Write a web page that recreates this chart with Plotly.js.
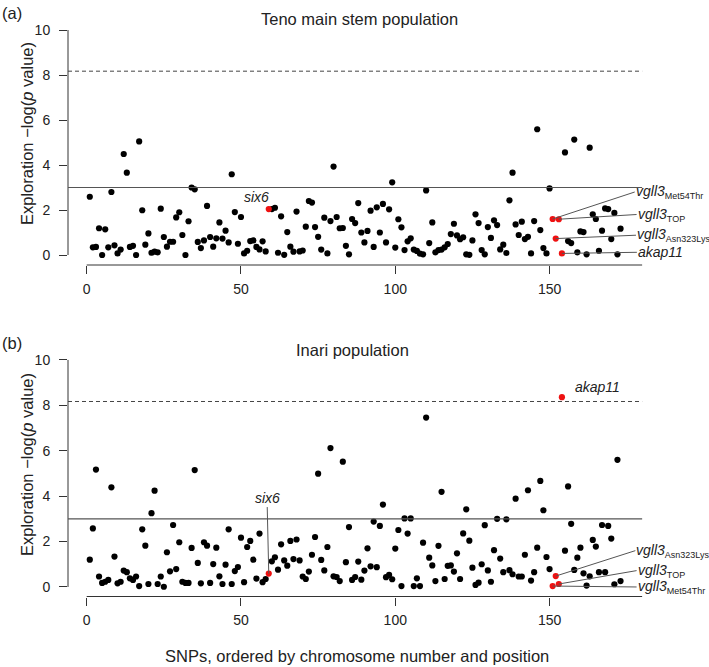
<!DOCTYPE html>
<html>
<head>
<meta charset="utf-8">
<script src="https://cdn.plot.ly/plotly-3.0.1.min.js"></script>
<style>
  html, body { margin: 0; padding: 0; background: #fff; }
  #chart { width: 709px; height: 667px; }
</style>
</head>
<body>
<div id="chart"></div>
<script>
// SNP exploration scores, -log(p), ordered by chromosome and position (SNP 1..173)
const tenoScores = [
  2.59, 0.34, 0.36, 1.19, 0.00, 1.14, 0.34, 2.80, 0.43, 0.07,
  0.24, 4.49, 3.66, 0.36, 0.41, 0.00, 5.05, 1.99, 0.46, 0.96,
  0.10, 0.15, 0.12, 2.06, 0.80, 0.37, 0.59, 0.59, 1.67, 1.90,
  0.89, 0.00, 1.50, 3.00, 2.92, 0.58, 0.31, 0.65, 2.18, 0.80,
  0.37, 0.74, 1.45, 0.73, 1.08, 0.56, 3.59, 1.91, 0.50, 1.69,
  0.07, 0.19, 0.62, 0.65, 0.36, 0.25, 0.61, 0.16, 2.04, 2.04,
  2.10, 0.10, 1.72, 0.01, 1.02, 0.37, 0.15, 1.93, 0.16, 0.20,
  1.26, 2.40, 2.33, 1.24, 0.81, 0.24, 1.66, 0.07, 1.51, 3.93,
  1.69, 1.19, 1.20, 0.41, 0.03, 1.60, 1.42, 2.31, 1.00, 0.56,
  1.07, 1.97, 0.36, 2.12, 1.00, 2.27, 0.56, 2.03, 3.23, 0.33,
  1.59, 1.23, 0.22, 0.61, 0.74, 0.24, 0.18, 0.06, 0.03, 2.87,
  0.53, 1.45, 0.12, 0.22, 0.24, 0.34, 0.49, 0.93, 1.39, 0.87,
  0.70, 0.79, 0.03, 0.01, 0.65, 1.81, 1.42, 0.22, 0.03, 1.24,
  0.76, 1.54, 1.33, 0.25, 0.46, 0.09, 2.43, 3.66, 1.36, 0.89,
  1.48, 0.71, 0.81, 0.07, 1.51, 5.59, 1.11, 0.31, 0.07, 2.96,
  1.60, 0.73, 1.59, 0.07, 4.56, 0.62, 0.53, 5.13, 0.12, 1.05,
  1.02, 0.03, 4.77, 1.81, 1.60, 0.19, 1.08, 2.07, 2.04, 0.71,
  1.87, 0.03, 1.17
];

const inariScores = [
  1.20, 2.58, 5.17, 0.46, 0.18, 0.23, 0.31, 4.39, 1.34, 0.16,
  0.23, 0.72, 0.65, 0.38, 0.31, 0.46, 0.04, 2.54, 1.82, 0.13,
  3.25, 4.24, 0.13, 0.46, 0.01, 1.53, 0.69, 2.73, 0.79, 1.97,
  0.23, 0.18, 0.18, 1.72, 5.15, 1.06, 0.16, 1.97, 1.82, 0.18,
  1.01, 1.73, 0.47, 0.13, 0.98, 2.54, 0.13, 0.70, 0.88, 2.17,
  0.21, 1.76, 2.03, 1.20, 0.37, 2.35, 0.21, 0.35, 0.59, 1.13,
  1.31, 0.76, 1.88, 1.17, 0.94, 2.03, 1.23, 2.09, 1.17, 0.46,
  0.35, 0.68, 1.42, 2.20, 4.99, 1.19, 0.73, 1.76, 6.12, 0.47,
  0.44, 0.26, 5.52, 1.09, 2.64, 0.31, 0.44, 1.12, 0.32, 0.72,
  1.70, 0.91, 2.88, 0.87, 2.69, 3.63, 0.43, 0.53, 0.34, 1.69,
  2.51, 0.04, 3.02, 2.35, 3.02, 0.04, 0.38, 0.04, 1.95, 7.46,
  1.29, 0.95, 0.26, 1.81, 4.19, 0.35, 0.93, 0.95, 0.68, 1.48,
  0.35, 2.36, 3.42, 2.04, 0.85, 0.09, 0.19, 1.00, 2.72, 0.73,
  0.23, 1.62, 3.00, 1.25, 0.65, 2.98, 0.74, 0.56, 3.89, 0.46,
  0.46, 1.42, 4.26, 0.28, 0.65, 1.73, 4.67, 3.38, 1.32, 0.79,
  0.04, 0.48, 0.13, 8.36, 1.60, 4.43, 2.78, 0.75, 1.29, 1.73,
  0.60, 0.06, 0.47, 2.07, 1.78, 0.65, 2.73, 0.65, 2.69, 2.13,
  0.12, 5.60, 0.26
];

// Candidate genes highlighted in red (SNP index)
const geneNames = ['six6', 'vgll3', 'vgll3', 'vgll3', 'akap11'];
const geneVariants = ['', 'Met54Thr', 'Asn323Lys', 'TOP', ''];
const geneSnps = [59, 151, 152, 153, 154];

// Significance thresholds
const suggestiveLine = 3;
const significantLine = 8.17;

const xTicks = [0, 50, 100, 150];
const yTicks = [0, 2, 4, 6, 8, 10];
const axisEnd = 180;

const panelTitles = ['Teno main stem population', 'Inari population'];
const panelTags = ['(a)', '(b)'];
const yTitle = 'Exploration \u2212log(<i>p</i> value)';
const xTitle = 'SNPs, ordered by chromosome number and position';

// ---- drawing ----
const FONT = 'Liberation Sans, Arial, Helvetica, sans-serif';
const INK = '#222';
const AXIS = '#333';

const snpIndex = tenoScores.map((_, i) => i + 1);

function panelTraces(scores, xa, ya) {
  const hl = new Set(geneSnps);
  const bx = [], by = [], rx = [], ry = [];
  snpIndex.forEach((s, i) => {
    if (hl.has(s)) { rx.push(s); ry.push(scores[i]); }
    else { bx.push(s); by.push(scores[i]); }
  });
  return [
    { type: 'scatter', mode: 'markers', x: bx, y: by, xaxis: xa, yaxis: ya,
      marker: { color: '#000', size: 6.2 }, hoverinfo: 'skip', cliponaxis: false },
    { type: 'scatter', mode: 'markers', x: rx, y: ry, xaxis: xa, yaxis: ya,
      marker: { color: '#ee1111', size: 6.2 }, hoverinfo: 'skip', cliponaxis: false }
  ];
}

const xRange = [-6.06, 181.9];

function axisX(anchor) {
  return {
    domain: [68 / 709, 648 / 709], range: xRange, anchor: anchor,
    showgrid: false, zeroline: false, showline: false,
    tickvals: xTicks, ticks: 'outside', ticklen: 8, tickwidth: 1, tickcolor: AXIS,
    ticklabelstandoff: 3,
    tickfont: { family: FONT, size: 14, color: INK }
  };
}
function axisY(domain, range, anchor) {
  return {
    domain: domain, range: range, anchor: anchor,
    showgrid: false, zeroline: false, showline: false,
    tickvals: yTicks, ticks: 'outside', ticklen: 8, tickwidth: 1, tickcolor: AXIS,
    ticklabelstandoff: 6,
    tickfont: { family: FONT, size: 14, color: INK }
  };
}

function panelShapes(xa, ya) {
  const xd = xa + ' domain', yd = ya + ' domain';
  return [
    { type: 'line', xref: xd, x0: 0, x1: 0, yref: ya, y0: yTicks[0], y1: yTicks[yTicks.length - 1],
      line: { color: AXIS, width: 1 } },
    { type: 'line', xref: xa, x0: xTicks[0], x1: axisEnd, yref: yd, y0: 0, y1: 0,
      line: { color: AXIS, width: 1 } },
    { type: 'line', xref: xa, x0: xRange[0], x1: axisEnd, yref: ya, y0: suggestiveLine, y1: suggestiveLine,
      line: { color: '#555', width: 1.2 } },
    { type: 'line', xref: xa, x0: xRange[0], x1: axisEnd, yref: ya, y0: significantLine, y1: significantLine,
      line: { color: '#444', width: 1, dash: '4px,3px' } }
  ];
}

function geneText(k) {
  const v = geneVariants[k];
  return '<i>' + geneNames[k] + '</i>' +
    (v ? '<sub><span style="font-size:9px">' + v + '</span></sub>' : '');
}

// label placement per panel: [gene index, tail x, tail y, anchor, leader line]
const tenoPlacement = [
  [0, 55.1, 2.59, 'center', false],
  [1, 177.6, 2.8, 'left', true],
  [3, 178.2, 1.8, 'left', true],
  [2, 178.0, 0.88, 'left', true],
  [4, 178.3, 0.12, 'left', true]
];
const inariPlacement = [
  [0, 58.5, 3.52, 'bottom', true],
  [4, 157.5, 8.82, 'left', false],
  [2, 177.8, 1.6, 'left', true],
  [3, 178.2, 0.72, 'left', true],
  [1, 178.2, 0.0, 'left', true]
];

function panelLabels(scores, placement, xa, ya) {
  return placement.map(([k, tx, ty, mode, leader]) => {
    const base = {
      text: geneText(k), xref: xa, yref: ya,
      font: { family: FONT, size: 14, color: INK }
    };
    if (!leader) {
      return Object.assign(base, { x: tx, y: ty, showarrow: false,
        xanchor: mode === 'left' ? 'left' : 'center', yanchor: 'middle' });
    }
    const s = geneSnps[k];
    return Object.assign(base, {
      x: s, y: scores[s - 1], ax: tx, ay: ty, axref: xa, ayref: ya,
      showarrow: true, arrowhead: 0, arrowwidth: 1, arrowcolor: '#555', standoff: 0,
      xanchor: mode === 'bottom' ? 'center' : 'left',
      yanchor: mode === 'bottom' ? 'bottom' : 'middle',
      borderpad: 0
    });
  });
}

function paperText(text, xpx, ypx, size, extra) {
  return Object.assign({
    text: text, xref: 'paper', yref: 'paper', x: xpx / 709, y: 1 - ypx / 667,
    showarrow: false, xanchor: 'center', yanchor: 'middle',
    font: { family: FONT, size: size, color: INK }
  }, extra || {});
}

const data = [
  ...panelTraces(tenoScores, 'x', 'y'),
  ...panelTraces(inariScores, 'x2', 'y2')
];

const layout = {
  width: 709, height: 667,
  margin: { l: 0, r: 0, t: 0, b: 0 },
  paper_bgcolor: '#fff', plot_bgcolor: '#fff',
  showlegend: false,
  xaxis: axisX('y'),
  yaxis: axisY([1 - 265 / 667, 1 - 21 / 667], [-0.444, 10.4], 'x'),
  xaxis2: axisX('y2'),
  yaxis2: axisY([1 - 596.5 / 667, 1 - 352 / 667], [-0.42, 10.35], 'x2'),
  shapes: [...panelShapes('x', 'y'), ...panelShapes('x2', 'y2')],
  annotations: [
    paperText(panelTitles[0], 359, 19, 16.5),
    paperText(panelTitles[1], 352.7, 350, 16.5),
    paperText(panelTags[0], 12, 12.5, 16.5),
    paperText(panelTags[1], 12, 343.5, 16.5),
    paperText(yTitle, 27, 134, 16.5, { textangle: -90 }),
    paperText(yTitle, 27, 465, 16.5, { textangle: -90 }),
    paperText(xTitle, 357, 655.5, 16.5),
    ...panelLabels(tenoScores, tenoPlacement, 'x', 'y'),
    ...panelLabels(inariScores, inariPlacement, 'x2', 'y2')
  ]
};

Plotly.newPlot('chart', data, layout, { staticPlot: true, displayModeBar: false });
</script>
</body>
</html>
